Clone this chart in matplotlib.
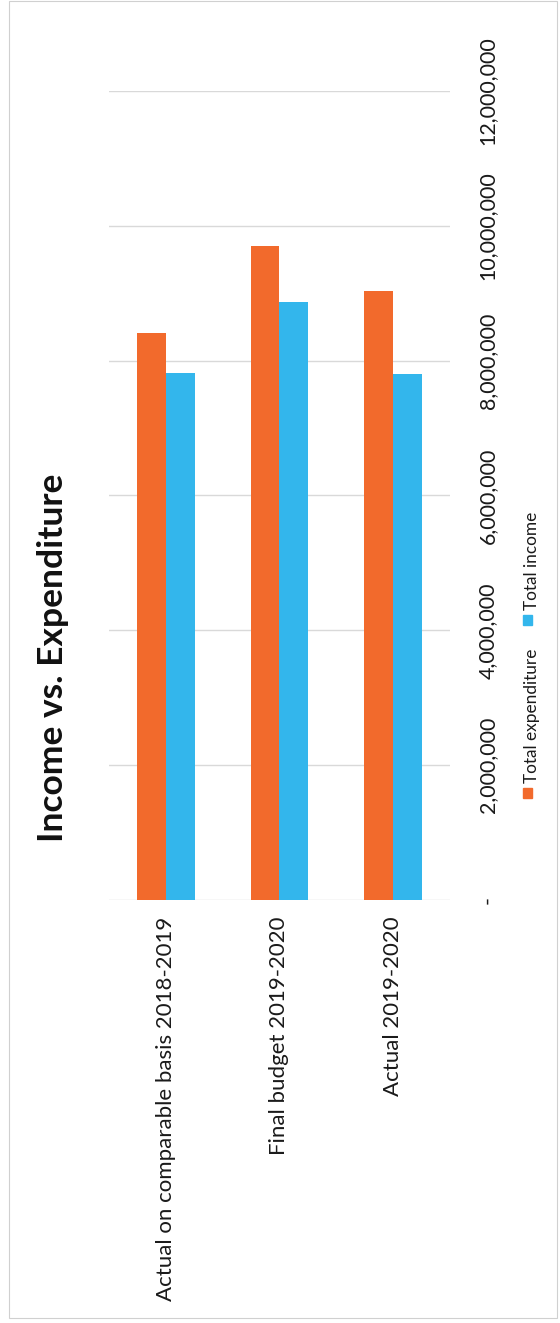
import matplotlib
matplotlib.use("Agg")
import matplotlib.pyplot as plt
import numpy as np
from matplotlib.patches import Rectangle

plt.rcParams['font.family'] = ['Lato', 'DejaVu Sans']

categories = ["Actual on comparable basis 2018-2019",
              "Final budget 2019-2020",
              "Actual 2019-2020"]
series_names = ["Total expenditure", "Total income"]
expenditure = [8410000, 9700000, 9030000]
income = [7820000, 8870000, 7800000]
ticks = [0, 2000000, 4000000, 6000000, 8000000, 10000000, 12000000]

orange = "#F26A2C"
blue = "#33B6EC"

W, H = 560, 1323
fig = plt.figure(figsize=(W / 100, H / 100), dpi=100)
ax = fig.add_axes([109 / W, 1 - 900 / H, 341 / W, 809 / H])

x = np.arange(len(categories))
bw = 0.255
ax.bar(x - bw / 2, expenditure, bw, color=orange, zorder=3)
ax.bar(x + bw / 2, income, bw, color=blue, zorder=3)

ax.set_xlim(-0.5, len(categories) - 0.5)
ax.set_ylim(0, 12000000)
ax.set_yticks(ticks)
ax.set_yticklabels(["-" if t == 0 else f"{t:,}" for t in ticks],
                   rotation=90, va='center', fontsize=15.5, color="#1a1a1a")
ax.yaxis.tick_right()
ax.tick_params(axis='y', length=0, pad=20)
ax.set_xticks(x)
ax.set_xticklabels(categories, rotation=90, va='top', ha='center',
                   fontsize=16, color="#1a1a1a")
ax.tick_params(axis='x', length=0, pad=12)
ax.grid(axis='y', color="#d9d9d9", lw=1, zorder=0)
for s in ax.spines.values():
    s.set_visible(False)

fig.text(53 / W, 1 - 658 / H, "Income vs. Expenditure", rotation=90,
         ha='center', va='center', fontsize=25.5, fontweight='bold', color="#111111")

# legend, drawn rotated like the rest of the chart
cols = [orange, blue]
text_bottom = [783, 610]
for name, c, yb in zip(series_names, cols, text_bottom):
    fig.patches.append(Rectangle((523 / W, 1 - (yb + 15) / H), 9 / W, 10 / H,
                                 transform=fig.transFigure, color=c))
    fig.text(532 / W, 1 - yb / H, name, rotation=90, ha='center', va='bottom',
             fontsize=12.4, color="#1a1a1a")

fig.patches.append(Rectangle((9 / W, 1 - 1318 / H), 548 / W, 1317 / H,
                             transform=fig.transFigure, fill=False,
                             ec="#d0d0d0", lw=0.8))

fig.savefig("out.png", dpi=100)
